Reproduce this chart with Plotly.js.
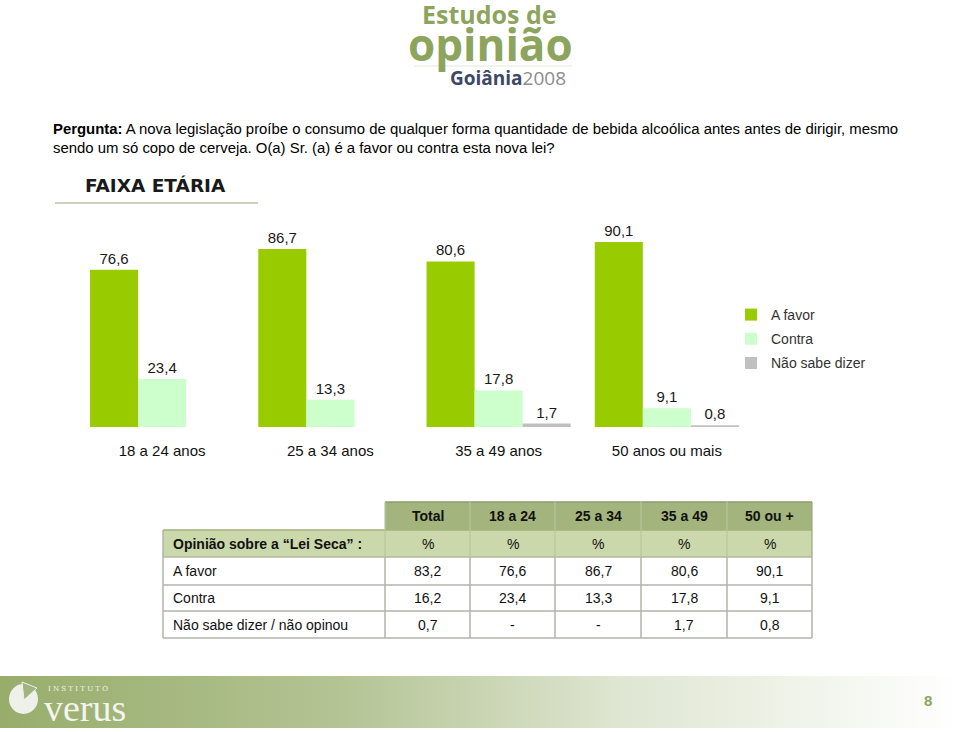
<!DOCTYPE html>
<html>
<head>
<meta charset="utf-8">
<script src="https://cdn.plot.ly/plotly-3.0.1.min.js"></script>
<style>html,body{margin:0;padding:0;background:#fff;}#chart{width:959px;height:732px;}</style>
</head>
<body>
<div id="chart"></div>
<script>
// ---- data ----
const categories = ['18 a 24 anos', '25 a 34 anos', '35 a 49 anos', '50 anos ou mais'];
const seriesNames = ['A favor', 'Contra', 'Não sabe dizer'];
const aFavor = [76.6, 86.7, 80.6, 90.1];
const contra = [23.4, 13.3, 17.8, 9.1];
const naoSabe = [null, null, 1.7, 0.8];
const total = [83.2, 16.2, 0.7];
const tableHeader = ['Total', '18 a 24', '25 a 34', '35 a 49', '50 ou +'];
const tableRowLabels = ['A favor', 'Contra', 'Não sabe dizer / não opinou'];
const tableSubHeader = 'Opinião sobre a “Lei Seca” :';
const tableUnit = '%';
const questionText = '<b>Pergunta:</b> A nova legislação proíbe o consumo de qualquer forma quantidade de bebida alcoólica antes antes de dirigir, mesmo<br>sendo um só copo de cerveja. O(a) Sr. (a) é a favor ou contra esta nova lei?';

const W = 959, H = 732;
const px = x => x / W;
const py = y => 1 - y / H;
const colors = ['#99cc00', '#ccffcc', '#c0c0c0'];
const FONT = 'Liberation Sans, Arial, sans-serif';

const fmt = v => (v === null || v === undefined) ? '-' : v.toFixed(1).replace('.', ',');

const barSeries = [aFavor, contra, naoSabe];
const traces = barSeries.map((vals, i) => ({
  type: 'bar',
  name: seriesNames[i],
  legendgroup: 'g' + i,
  x: categories,
  y: vals,
  marker: {color: colors[i], line: {width: 0}},
  texttemplate: '%{y:.1f}',
  textposition: 'outside',
  cliponaxis: false,
  textfont: {family: FONT, size: 15, color: '#1a1a1a'},
  hoverinfo: 'skip'
}));

const shapes = [];
const annotations = [];
const ann = (text, x, y, o) => annotations.push(Object.assign({
  text: text, x: px(x), y: py(y), xref: 'paper', yref: 'paper', showarrow: false,
  xanchor: 'center', yanchor: 'middle'
}, o || {}));

// ---- table (layout drawn from the arrays) ----
const colEdges = [163, 385, 470, 555, 641, 727, 812];
const rowEdges = [502, 530, 557, 585, 611, 638];
const tableRows = [
  [tableSubHeader].concat(Array(tableHeader.length).fill(tableUnit))
];
tableRowLabels.forEach((lab, r) => {
  const row = [lab, fmt(total[r])];
  for (let c = 0; c < categories.length; c++) row.push(fmt(barSeries[r][c]));
  tableRows.push(row);
});
shapes.push({type: 'rect', xref: 'paper', yref: 'paper', x0: px(colEdges[1]), x1: px(colEdges[6]),
  y0: py(rowEdges[0]), y1: py(rowEdges[1]), fillcolor: '#a3b57d', line: {width: 0}, layer: 'below'});
shapes.push({type: 'rect', xref: 'paper', yref: 'paper', x0: px(colEdges[0]), x1: px(colEdges[6]),
  y0: py(rowEdges[1]), y1: py(rowEdges[2]), fillcolor: '#cad8ac', line: {width: 0}, layer: 'below'});
const hline = (x0, x1, y, color, w) => shapes.push({type: 'line', xref: 'paper', yref: 'paper',
  x0: px(x0), x1: px(x1), y0: py(y), y1: py(y), line: {color: color, width: w}});
const vline = (x, y0, y1, color, w) => shapes.push({type: 'line', xref: 'paper', yref: 'paper',
  x0: px(x), x1: px(x), y0: py(y0), y1: py(y1), line: {color: color, width: w}});
hline(colEdges[1], colEdges[6], rowEdges[0], '#8c9b6c', 1.5);
hline(colEdges[0], colEdges[6], rowEdges[1], '#a2b37c', 1.5);
hline(colEdges[0], colEdges[6], rowEdges[2], '#b2b8a2', 1.5);
for (let r = 3; r < rowEdges.length; r++) hline(colEdges[0], colEdges[6], rowEdges[r], '#b3b3ad', 1.5);
vline(colEdges[0], rowEdges[1], rowEdges[5], '#b3b3ad', 1.5);
for (let c = 1; c < colEdges.length; c++) {
  vline(colEdges[c], rowEdges[0], rowEdges[2], c === 6 ? '#9aa584' : '#b9c69c', 1.2);
  vline(colEdges[c], rowEdges[2], rowEdges[5], '#b3b3ad', 1.5);
}
tableHeader.forEach((h, c) => {
  ann('<b>' + h + '</b>', (colEdges[c + 1] + colEdges[c + 2]) / 2, (rowEdges[0] + rowEdges[1]) / 2,
    {font: {family: FONT, size: 14, color: '#111'}});
});
tableRows.forEach((row, r) => {
  const yc = (rowEdges[r + 1] + rowEdges[r + 2]) / 2;
  row.forEach((val, c) => {
    if (c === 0) {
      ann(r === 0 ? '<b>' + val + '</b>' : val, colEdges[0] + 8, yc,
        {xanchor: 'left', font: {family: FONT, size: 14, color: '#111'}});
    } else {
      ann(val, (colEdges[c] + colEdges[c + 1]) / 2, yc, {font: {family: FONT, size: 14, color: '#111'}});
    }
  });
});

// ---- decorations ----
shapes.push({type: 'line', xref: 'paper', yref: 'paper', x0: px(55), x1: px(258), y0: py(203), y1: py(203),
  line: {color: '#cfcfbd', width: 2}});
shapes.push({type: 'line', xref: 'paper', yref: 'paper', x0: px(414), x1: px(572), y0: py(66), y1: py(66),
  line: {color: '#e3e7da', width: 1}});
shapes.push({type: 'circle', xref: 'paper', yref: 'paper', x0: px(9), x1: px(38), y0: py(714), y1: py(684),
  fillcolor: '#eef0ea', line: {width: 0}});
shapes.push({type: 'path', xref: 'paper', yref: 'paper',
  path: 'M ' + px(24) + ',' + py(700) + ' L ' + px(22) + ',' + py(682) + ' L ' + px(37) + ',' + py(688) + ' Z',
  fillcolor: '#a2b47e', line: {color: '#eef0ea', width: 1}});

ann('<b>Estudos de</b>', 489, 14, {font: {family: 'Open Sans, sans-serif', size: 25, color: '#8da45c'}});
ann('<b>opinião</b>', 490, 44, {font: {family: 'Open Sans, sans-serif', size: 44, color: '#8da45c'}});
ann('<b style="color:#3c4868">Goiânia</b><span style="color:#8c8c8c">2008</span>', 508, 78,
  {font: {family: 'Open Sans, sans-serif', size: 19}});
ann(questionText, 51, 138, {xanchor: 'left', align: 'left', font: {family: FONT, size: 14.9, color: '#000'}});
ann('<b>FAIXA ETÁRIA</b>', 83, 186, {xanchor: 'left', font: {family: 'DejaVu Sans, sans-serif', size: 18.5, color: '#1a1a1a'}});
ann('I N S T I T U T O', 46, 689, {xanchor: 'left', font: {family: 'DejaVu Serif, serif', size: 7, color: '#f4f4f0'}});
ann('verus', 42, 708, {xanchor: 'left', font: {family: 'Liberation Serif, serif', size: 38, color: '#f4f4f0'}});
ann('<b>8</b>', 928, 700, {font: {family: FONT, size: 15, color: '#8da45c'}});

const gradSvg = '<svg xmlns="http://www.w3.org/2000/svg" width="959" height="52" preserveAspectRatio="none">' +
  '<defs><linearGradient id="g" x1="0" y1="0" x2="1" y2="0">' +
  '<stop offset="0" stop-color="#98ad6c"/><stop offset="0.35" stop-color="#b3c393"/>' +
  '<stop offset="0.65" stop-color="#dfe6d2"/><stop offset="1" stop-color="#ffffff"/>' +
  '</linearGradient></defs><rect width="959" height="52" fill="url(#g)"/></svg>';

const layout = {
  width: W, height: H,
  margin: {l: 0, r: 0, t: 0, b: 0},
  paper_bgcolor: '#ffffff', plot_bgcolor: 'rgba(0,0,0,0)',
  separators: ',.',
  barmode: 'group',
  bargap: 0.143,
  bargroupgap: 0,
  showlegend: true,
  legend: {
    x: px(731), y: py(299), xanchor: 'left', yanchor: 'top',
    font: {family: FONT, size: 14, color: '#333'},
    traceorder: 'grouped', tracegroupgap: 3, itemwidth: 30,
    bgcolor: 'rgba(0,0,0,0)'
  },
  xaxis: {
    domain: [px(78), px(751)],
    anchor: 'y',
    showline: false, showgrid: false, zeroline: false, ticks: '',
    tickfont: {family: FONT, size: 15, color: '#111'},
    ticklabelstandoff: 13,
    fixedrange: true
  },
  yaxis: {
    domain: [py(427), py(200)],
    range: [0, 110.5],
    visible: false, showgrid: false, zeroline: false,
    fixedrange: true
  },
  images: [{
    source: 'data:image/svg+xml;charset=utf-8,' + encodeURIComponent(gradSvg),
    xref: 'paper', yref: 'paper', x: 0, y: py(676), sizex: 1, sizey: 52 / H,
    sizing: 'stretch', xanchor: 'left', yanchor: 'top', layer: 'below'
  }],
  shapes: shapes,
  annotations: annotations
};

Plotly.newPlot('chart', traces, layout, {staticPlot: true, displayModeBar: false});
</script>
</body>
</html>
